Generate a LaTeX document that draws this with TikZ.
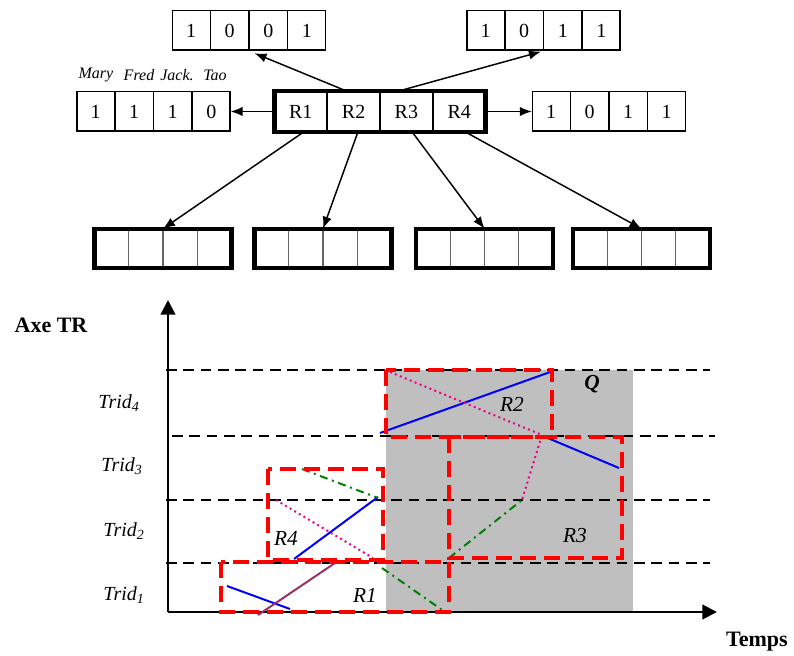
\documentclass[tikz,border=0pt]{standalone}
\usepackage{fontspec}
\setmainfont{Liberation Serif}
\usetikzlibrary{positioning,shapes.multipart,arrows.meta}

\definecolor{plum}{RGB}{153,51,102}
\definecolor{darkgreen}{RGB}{0,128,0}

\begin{document}
\begin{tikzpicture}[x=0.75pt, y=-0.75pt,
    cellrow/.style={rectangle split, rectangle split horizontal,
    rectangle split parts=4, rectangle split ignore empty parts=false,
    draw, line width=1.1pt, inner sep=0pt, text width=27.8pt,
    text height=19.85pt, text depth=9.75pt, text centered,
    font=\fontsize{15}{18}\selectfont},
    rootrow/.style={cellrow, text width=38.5pt, text height=19.7pt, text depth=9.6pt},
    leafrow/.style={cellrow, draw=black!60, line width=0.8pt, text width=24.85pt,
    text height=14.45pt, text depth=14.45pt},
    frame/.style={line width=3.2pt},
    person/.style={font=\fontsize{12}{14}\selectfont\itshape, inner sep=0pt},
    line/.style={draw, -{Latex[length=9pt,width=7pt]}, line width=1.1pt},
    axis/.style={draw, -{Triangle[length=11pt,width=11pt]}, line width=1.5pt},
    level/.style={draw, dash pattern=on 8pt off 5pt, line width=1.1pt},
    zone/.style={draw=red, dash pattern=on 12pt off 6pt, line width=2.8pt},
    trid/.style={font=\fontsize{15}{18}\selectfont\itshape},
    axislabel/.style={font=\fontsize{16.5}{20}\selectfont\bfseries},
    rlabel/.style={font=\fontsize{16}{19}\selectfont\itshape},
    seg/.style={line width=1.5pt}]

\useasboundingbox (0,0) rectangle (794,656);

% top part: the R-tree node and its entries
\node [rootrow] (root) at (380,111.5) {R1 \nodepart{two}R2 \nodepart{three}R3 \nodepart{four}R4};
\node [cellrow] (topl) at (249,30.5) {1 \nodepart{two}0 \nodepart{three}0 \nodepart{four}1};
\node [cellrow] (topr) at (543.5,30.5) {1 \nodepart{two}0 \nodepart{three}1 \nodepart{four}1};
\node [cellrow, left=32.9pt of root] (names) {1 \nodepart{two}1 \nodepart{three}1 \nodepart{four}0};
\node [cellrow, right=34.7pt of root] (rt) {1 \nodepart{two}0 \nodepart{three}1 \nodepart{four}1};

\node [person] (mary) at (96,75) {Mary};
\node [person] (fred) at (139,75) {Fred};
\node [person] (jack) at (177,75) {Jack.};
\node [person] (tao) at (215,75) {Tao};

\node [leafrow] (leafa) at (163,248.5) {\nodepart{two}\nodepart{three}\nodepart{four}};
\node [leafrow, right=17.4pt of leafa] (leafb) {\nodepart{two}\nodepart{three}\nodepart{four}};
\node [leafrow, right=18.5pt of leafb] (leafc) {\nodepart{two}\nodepart{three}\nodepart{four}};
\node [leafrow, right=15.2pt of leafc] (leafd) {\nodepart{two}\nodepart{three}\nodepart{four}};

\draw [frame] (root.north west) rectangle (root.south east);
\draw [frame] (leafa.north west) rectangle (leafa.south east);
\draw [frame] (leafb.north west) rectangle (leafb.south east);
\draw [frame] (leafc.north west) rectangle (leafc.south east);
\draw [frame] (leafd.north west) rectangle (leafd.south east);

\path [line, shorten >=4.5pt] ([xshift=-24.75pt]root.north) -- (topl.south);
\path [line, shorten >=2pt] ([xshift=13.5pt]root.north) -- (topr.south);
\path [line] (root.west) -- (names.east);
\path [line] (root.east) -- (rt.west);
\path [line] ([xshift=-57pt]root.south) -- (leafa.north);
\path [line] ([xshift=-16.5pt]root.south) -- (leafb.north);
\path [line] ([xshift=24pt]root.south) -- (leafc.north);
\path [line] ([xshift=63.75pt]root.south) -- (leafd.north);

% bottom part: the query window over the time axis
\coordinate (orig) at (168,612);
\coordinate (ytip) at (168,300);
\coordinate (xtip) at (717,612);

\fill [gray!50] (386,370) rectangle (633,612);

\draw [level] (166,370) -- (710,370);
\draw [level] (172,436) -- (715,436);
\draw [level] (166,500) -- (710,500);
\draw [level] (166,563) -- (710,563);

\draw [axis] (orig) -- (ytip);
\draw [axis] (orig) -- (xtip);

\node [axislabel] (axetr) at (51,325) {Axe TR};
\node [axislabel] (temps) at (757,642) {Temps};

\node [trid] (trid4) at (119,403) {Trid\textsubscript{4}};
\node [trid] (trid3) at (122,466) {Trid\textsubscript{3}};
\node [trid] (trid2) at (124,531) {Trid\textsubscript{2}};
\node [trid] (trid1) at (124,595) {Trid\textsubscript{1}};

% trajectories
\draw [seg, blue] (227,586) -- (290,609);
\draw [seg, blue] (294,559) -- (378,497);
\draw [seg, blue] (380,433) -- (553,371);
\draw [seg, blue] (543,436) -- (619,468);
\draw [seg, plum] (258,615) -- (335,563);
\draw [seg, magenta, dash pattern=on 1.5pt off 2.5pt] (276,500) -- (373,558);
\draw [seg, magenta, dash pattern=on 1.5pt off 2.5pt] (390,372) -- (542,435) -- (522,500);
\draw [seg, darkgreen, dash pattern=on 6pt off 3.5pt on 1.5pt off 3.5pt] (302,469) -- (378,498);
\draw [seg, darkgreen, dash pattern=on 6pt off 3.5pt on 1.5pt off 3.5pt] (382,568) -- (445,612);
\draw [seg, darkgreen, dash pattern=on 6pt off 3.5pt on 1.5pt off 3.5pt] (449,558) -- (522,500);

% bounding rectangles
\draw [zone] (221,562) rectangle (449,612);
\draw [zone] (386,370) rectangle (552,437);
\draw [zone] (449,437) rectangle (622,558);
\draw [zone] (268,469) rectangle (383,560);

\node [rlabel] (r1) at (365,595) {R1};
\node [rlabel] (r2) at (512,404) {R2};
\node [rlabel] (r3) at (575,536) {R3};
\node [rlabel] (r4) at (286,538) {R4};
\node [rlabel, font=\fontsize{16}{19}\selectfont\bfseries\itshape] (q) at (592,384) {Q};
\end{tikzpicture}
\end{document}
